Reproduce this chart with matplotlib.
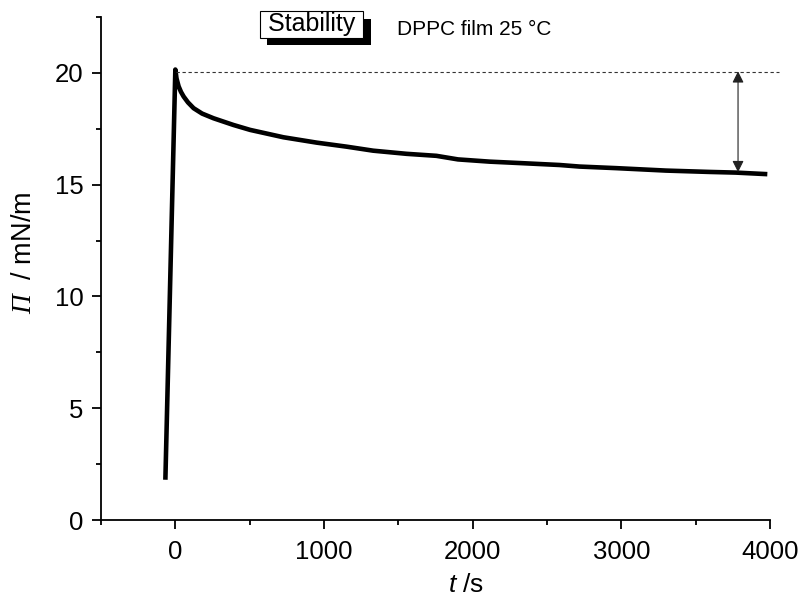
import matplotlib
matplotlib.use("Agg")
import matplotlib.pyplot as plt
import matplotlib.patheffects as pe
from matplotlib.ticker import MultipleLocator

# surface pressure vs time
t_s = [-67, 0, 8, 22, 38, 56, 85, 123, 180, 257, 391, 503, 727, 951, 1152,
       1331, 1555, 1756, 1901, 2114, 2338, 2584, 2718, 2964, 3300, 3591,
       3770, 3982]
pi_mN = [1.8, 20.15, 19.75, 19.4, 19.15, 18.94, 18.68, 18.42, 18.18, 17.97,
         17.67, 17.45, 17.12, 16.88, 16.7, 16.52, 16.38, 16.29, 16.13, 16.03,
         15.96, 15.88, 15.81, 15.74, 15.63, 15.57, 15.54, 15.47]

pi_max = 20.05
arrow_t = 3785
arrow_low = 15.56
dash_end = 4060

plt.rcParams['font.family'] = ['Liberation Sans', 'DejaVu Sans']
plt.rcParams['mathtext.fontset'] = 'custom'
plt.rcParams['mathtext.rm'] = 'Liberation Sans'
plt.rcParams['mathtext.it'] = 'Liberation Sans:italic'
plt.rcParams['mathtext.sf'] = 'Liberation Serif:italic'

fig = plt.figure(figsize=(8.02, 5.97), dpi=100)
ax = fig.add_axes([101/802, 1-520/597, 669/802, 503/597])

ax.plot(t_s, pi_mN, color='black', lw=3.3, solid_joinstyle='round',
        solid_capstyle='butt')
ax.plot([5, dash_end], [pi_max, pi_max], color='#333333', lw=0.8,
        ls=(0, (3, 2.4)), clip_on=False)
ax.annotate('', xy=(arrow_t, arrow_low), xytext=(arrow_t, pi_max + 0.02),
            arrowprops=dict(arrowstyle='<|-|>', color='#222222', lw=0.8,
                            mutation_scale=17, shrinkA=0, shrinkB=0))

ax.set_xlim(-500, 4000)
ax.set_ylim(0, 22.5)
ax.xaxis.set_major_locator(MultipleLocator(1000))
ax.xaxis.set_minor_locator(MultipleLocator(500))
ax.yaxis.set_major_locator(MultipleLocator(5))
ax.yaxis.set_minor_locator(MultipleLocator(2.5))

for s in ['top', 'right']:
    ax.spines[s].set_visible(False)
for s in ['left', 'bottom']:
    ax.spines[s].set_linewidth(1.3)

ax.tick_params(which='major', direction='out', length=6.5, width=1.3,
               labelsize=18.5)
ax.tick_params(which='minor', direction='out', length=3.5, width=1.3)
ax.tick_params(axis='x', which='major', pad=8)
ax.tick_params(axis='y', which='major', pad=6)

ax.set_xlabel(r'$\mathit{t}$ /s', fontsize=19)
ax.xaxis.set_label_coords(0.5456, -0.106)
ax.set_ylabel(r'$\mathsf{\Pi}$  / mN/m', fontsize=19.5)
ax.yaxis.set_label_coords(-0.096, 0.531)

txt = ax.text(916, 22.17, ' Stability ', fontsize=18, ha='center',
              va='center', clip_on=False,
              bbox=dict(boxstyle='square,pad=0.05', fc='white', ec='black',
                        lw=0.8))
txt.get_bbox_patch().set_path_effects([
    pe.SimplePatchShadow(offset=(5.5, -5.5), shadow_rgbFace='black',
                         alpha=1.0),
    pe.Normal()])
ax.text(1490, 21.7, 'DPPC film 25 °C', fontsize=15, ha='left',
        va='baseline', clip_on=False)

fig.savefig('out.png', dpi=100)
